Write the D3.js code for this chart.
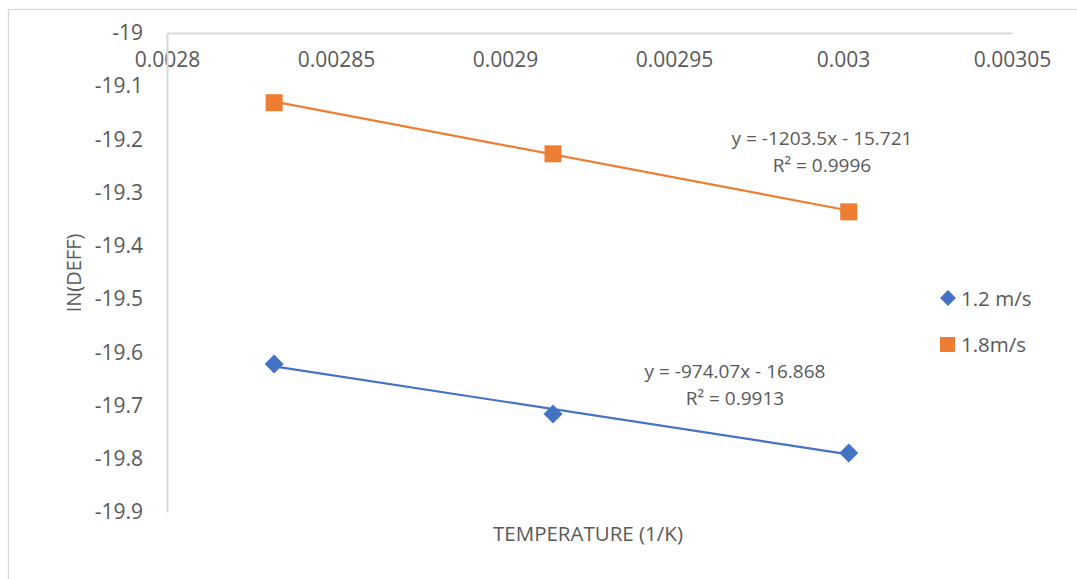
<!DOCTYPE html>
<html><head><meta charset="utf-8">
<script src="https://cdn.jsdelivr.net/npm/d3@7"></script>
<style>
html,body{margin:0;padding:0;background:#fff;}
svg{display:block;font-family:"Open Sans",sans-serif;}
</style></head>
<body>
<svg id="chart" width="1077" height="579"></svg>
<script>
// ---- data ----
const xValues = [0.0028317, 0.0029142, 0.0030017];
const series1Name = "1.2 m/s";
const series1Values = [-19.622, -19.716, -19.789];
const series2Name = "1.8m/s";
const series2Values = [-19.131, -19.227, -19.336];
const trend1 = [-974.07, -16.868];   // slope, intercept
const trend2 = [-1203.5, -15.721];
const trend1Text = ["y = -974.07x - 16.868", "R² = 0.9913"];
const trend2Text = ["y = -1203.5x - 15.721", "R² = 0.9996"];
const xTicks = [0.0028, 0.00285, 0.0029, 0.00295, 0.003, 0.00305];
const xTickLabels = ["0.0028", "0.00285", "0.0029", "0.00295", "0.003", "0.00305"];
const yTicks = [-19, -19.1, -19.2, -19.3, -19.4, -19.5, -19.6, -19.7, -19.8, -19.9];
const yTickLabels = ["-19", "-19.1", "-19.2", "-19.3", "-19.4", "-19.5", "-19.6", "-19.7", "-19.8", "-19.9"];
const xTitle = "TEMPERATURE (1/K)";
const yTitle = "IN(DEFF)";

// ---- drawing ----
const svg = d3.select("#chart");
const blue = "#4472C4", orange = "#ED7D31", txt = "#595959", axisCol = "#d9d9d9";

// chart border
svg.append("rect").attr("x", 8.5).attr("y", 9.5).attr("width", 1100).attr("height", 600)
  .attr("fill", "none").attr("stroke", axisCol).attr("stroke-width", 1.3);

const x = d3.scaleLinear().domain([0.0028, 0.00305]).range([167, 1012]);
const y = d3.scaleLinear().domain([-19, -19.9]).range([33, 512]);

// axes
const xAxis = d3.axisBottom(x).tickValues(xTicks).tickFormat((d, i) => xTickLabels[i]).tickSize(0).tickPadding(19);
const gx = svg.append("g").attr("transform", `translate(0,${y(-19)})`).call(xAxis);
gx.select(".domain").attr("stroke", axisCol).attr("stroke-width", 2);
gx.selectAll("text").attr("fill", txt).style("font-size", "21px").style("font-family", "Open Sans");

const yAxis = d3.axisLeft(y).tickValues(yTicks).tickFormat((d, i) => yTickLabels[i]).tickSize(0).tickPadding(24);
const gy = svg.append("g").attr("transform", `translate(${x(0.0028)},0)`).call(yAxis);
gy.select(".domain").attr("stroke", axisCol).attr("stroke-width", 2);
gy.selectAll("text").attr("fill", txt).style("font-size", "21px").style("font-family", "Open Sans");

// titles
svg.append("text").attr("x", 588).attr("y", 541).attr("text-anchor", "middle")
  .attr("fill", txt).style("font-size", "20.5px").text(xTitle);
svg.append("text").attr("transform", "translate(81,273) rotate(-90)").attr("text-anchor", "middle")
  .attr("fill", txt).style("font-size", "20px").text(yTitle);

// trendlines
function trendLine(t, col) {
  const ext = d3.extent(xValues);
  svg.append("line")
    .attr("x1", x(ext[0])).attr("y1", y(t[0] * ext[0] + t[1]))
    .attr("x2", x(ext[1])).attr("y2", y(t[0] * ext[1] + t[1]))
    .attr("stroke", col).attr("stroke-width", 2.2);
}
trendLine(trend1, blue);
trendLine(trend2, orange);

// markers
const diamond = d3.symbol().type(d3.symbolDiamond2).size(230);
svg.append("g").selectAll("path").data(series1Values).join("path")
  .attr("d", diamond)
  .attr("transform", (d, i) => `translate(${x(xValues[i])},${y(d)})`)
  .attr("fill", blue);
svg.append("g").selectAll("rect").data(series2Values).join("rect")
  .attr("x", (d, i) => x(xValues[i]) - 8.5).attr("y", d => y(d) - 8.5)
  .attr("width", 17).attr("height", 17).attr("fill", orange);

// trend labels
function trendLabel(lines, cx, cy) {
  lines.forEach((l, i) => {
    svg.append("text").attr("x", cx).attr("y", cy + i * 27).attr("text-anchor", "middle")
      .attr("dominant-baseline", "central").attr("fill", txt).style("font-size", "19px").text(l);
  });
}
trendLabel(trend2Text, 822, 138);
trendLabel(trend1Text, 735, 371);

// legend
const lg = svg.append("g");
lg.append("path").attr("d", d3.symbol().type(d3.symbolDiamond2).size(160)).attr("transform", "translate(948,298)").attr("fill", blue);
lg.append("text").attr("x", 961).attr("y", 298).attr("dominant-baseline", "central").attr("fill", txt).style("font-size", "20.5px").text(series1Name);
lg.append("rect").attr("x", 940).attr("y", 337).attr("width", 15).attr("height", 15).attr("fill", orange);
lg.append("text").attr("x", 961).attr("y", 344).attr("dominant-baseline", "central").attr("fill", txt).style("font-size", "20.5px").text(series2Name);
</script>
</body></html>
